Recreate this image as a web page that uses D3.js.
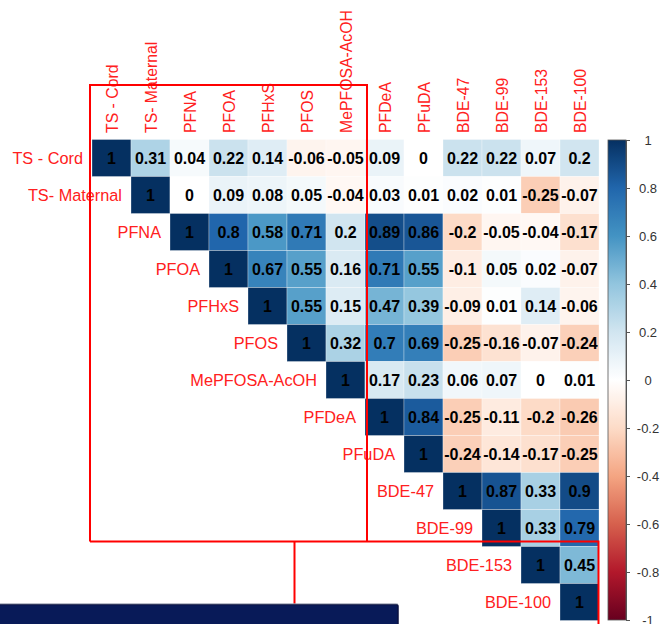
<!DOCTYPE html>
<html>
<head>
<meta charset="utf-8">
<script src="https://cdn.jsdelivr.net/npm/d3@7"></script>
<style>
  html, body { margin: 0; padding: 0; background: #fff; }
  svg { display: block; font-family: "Liberation Sans", Arial, sans-serif; }
</style>
</head>
<body>
<svg id="chart" width="660" height="624"></svg>
<script>
// Variables in matrix order
const variables = ["TS - Cord", "TS- Maternal", "PFNA", "PFOA", "PFHxS", "PFOS",
  "MePFOSA-AcOH", "PFDeA", "PFuDA", "BDE-47", "BDE-99", "BDE-153", "BDE-100"];

// Upper-triangle correlations, one array per row starting at the diagonal
const rowTSCord     = [1, 0.31, 0.04, 0.22, 0.14, -0.06, -0.05, 0.09, 0, 0.22, 0.22, 0.07, 0.2];
const rowTSMaternal = [1, 0, 0.09, 0.08, 0.05, -0.04, 0.03, 0.01, 0.02, 0.01, -0.25, -0.07];
const rowPFNA       = [1, 0.8, 0.58, 0.71, 0.2, 0.89, 0.86, -0.2, -0.05, -0.04, -0.17];
const rowPFOA       = [1, 0.67, 0.55, 0.16, 0.71, 0.55, -0.1, 0.05, 0.02, -0.07];
const rowPFHxS      = [1, 0.55, 0.15, 0.47, 0.39, -0.09, 0.01, 0.14, -0.06];
const rowPFOS       = [1, 0.32, 0.7, 0.69, -0.25, -0.16, -0.07, -0.24];
const rowMePFOSA    = [1, 0.17, 0.23, 0.06, 0.07, 0, 0.01];
const rowPFDeA      = [1, 0.84, -0.25, -0.11, -0.2, -0.26];
const rowPFuDA      = [1, -0.24, -0.14, -0.17, -0.25];
const rowBDE47      = [1, 0.87, 0.33, 0.9];
const rowBDE99      = [1, 0.33, 0.79];
const rowBDE153     = [1, 0.45];
const rowBDE100     = [1];

const rows = [rowTSCord, rowTSMaternal, rowPFNA, rowPFOA, rowPFHxS, rowPFOS,
  rowMePFOSA, rowPFDeA, rowPFuDA, rowBDE47, rowBDE99, rowBDE153, rowBDE100];

// Colour bar ticks
const legendTicks = [1, 0.8, 0.6, 0.4, 0.2, 0, -0.2, -0.4, -0.6, -0.8, -1];

// RdBu diverging palette
const paletteStops = ["#67001F", "#B2182B", "#D6604D", "#F4A582", "#FDDBC7", "#FFFFFF",
  "#D1E5F0", "#92C5DE", "#4393C3", "#2166AC", "#053061"];

const cells = [];
rows.forEach((vals, i) => {
  vals.forEach((v, k) => {
    cells.push({ row: variables[i], col: variables[i + k], value: v });
  });
});

const svg = d3.select("#chart");

const x = d3.scaleBand().domain(variables).range([92, 599]);
const y = d3.scaleBand().domain(variables).range([139.5, 620.5]);
const color = d3.scaleLinear()
  .domain(d3.range(paletteStops.length).map(i => -1 + 2 * i / (paletteStops.length - 1)))
  .range(paletteStops)
  .interpolate(d3.interpolateRgb);

// Cells
svg.append("g")
  .selectAll("rect")
  .data(cells)
  .join("rect")
  .attr("x", d => x(d.col))
  .attr("y", d => y(d.row))
  .attr("width", x.bandwidth())
  .attr("height", y.bandwidth())
  .attr("fill", d => color(d.value))
  .attr("stroke", "#ffffff")
  .attr("stroke-opacity", 0.5)
  .attr("stroke-width", 0.6);

// Coefficients
svg.append("g")
  .selectAll("text")
  .data(cells)
  .join("text")
  .attr("x", d => x(d.col) + x.bandwidth() / 2)
  .attr("y", d => y(d.row) + y.bandwidth() / 2)
  .attr("text-anchor", "middle")
  .attr("dy", "0.36em")
  .attr("font-size", 16)
  .attr("font-weight", "bold")
  .attr("fill", "#000")
  .text(d => String(d.value));

// Row labels, next to the diagonal
svg.append("g")
  .selectAll("text")
  .data(variables)
  .join("text")
  .attr("x", d => x(d) - 9)
  .attr("y", d => y(d) + y.bandwidth() / 2)
  .attr("dy", "0.36em")
  .attr("text-anchor", "end")
  .attr("font-size", 16.3)
  .attr("fill", "#ff2020")
  .text(d => d);

// Column labels, rotated
svg.append("g")
  .selectAll("text")
  .data(variables)
  .join("text")
  .attr("transform", d => `translate(${x(d) + x.bandwidth() / 2 + 1},133) rotate(-90)`)
  .attr("dy", "0.36em")
  .attr("text-anchor", "start")
  .attr("font-size", 15.8)
  .attr("fill", "#ff2020")
  .text(d => d);

// Colour bar
const legendY = d3.scaleLinear().domain([-1, 1]).range([620, 140]);
const grad = svg.append("defs").append("linearGradient")
  .attr("id", "cbar")
  .attr("x1", 0).attr("x2", 0).attr("y1", 1).attr("y2", 0);
d3.range(0, 101).forEach(i => {
  const t = i / 100;
  grad.append("stop").attr("offset", t).attr("stop-color", color(-1 + 2 * t));
});
svg.append("rect")
  .attr("x", 608)
  .attr("y", legendY(1))
  .attr("width", 18)
  .attr("height", legendY(-1) - legendY(1))
  .attr("fill", "url(#cbar)")
  .attr("stroke", "#555")
  .attr("stroke-width", 0.8);

const legendAxis = svg.append("g")
  .attr("transform", "translate(626,0)")
  .call(d3.axisRight(legendY).tickValues(legendTicks).tickSize(4).tickSizeOuter(0)
    .tickFormat(d => String(Math.round(d * 10) / 10)));
legendAxis.select(".domain").attr("stroke", "#555");
legendAxis.selectAll(".tick line").attr("stroke", "#555");
legendAxis.selectAll(".tick text")
  .attr("x", 22)
  .attr("text-anchor", "middle")
  .attr("font-size", 13)
  .attr("font-family", "Liberation Sans, Arial, sans-serif")
  .attr("fill", "#333");

// Highlight outlines
const outline = svg.append("g")
  .attr("fill", "none")
  .attr("stroke", "#ff0000")
  .attr("stroke-width", 2);
outline.append("path")
  .attr("d", "M90,541.5 L90,85 L367,85 L367,541.5");
outline.append("path")
  .attr("d", "M90,541.5 L598.5,541.5 L598.5,624");
outline.append("path")
  .attr("d", "M294.5,541.5 L294.5,605");

// Footer bar
svg.append("rect")
  .attr("x", -2)
  .attr("y", 604.5)
  .attr("width", 400)
  .attr("height", 24)
  .attr("rx", 2)
  .attr("fill", "#081a58")
  .attr("stroke", "#0a1240")
  .attr("stroke-width", 1.5);
svg.append("line")
  .attr("x1", 0).attr("x2", 398)
  .attr("y1", 603.8).attr("y2", 603.8)
  .attr("stroke", "#b8bcc8")
  .attr("stroke-width", 0.8);
</script>
</body>
</html>
